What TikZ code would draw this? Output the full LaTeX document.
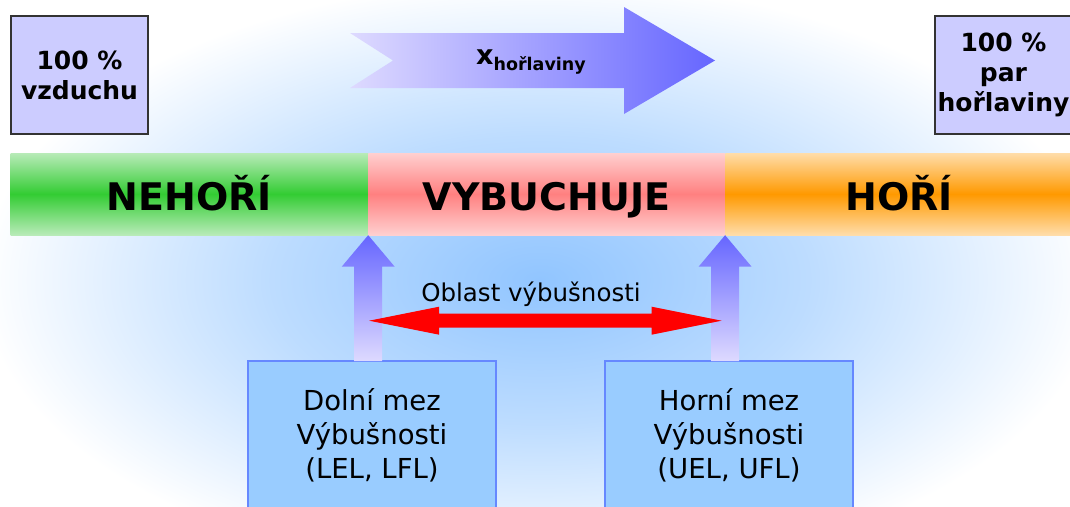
\documentclass[tikz,border=0pt]{standalone}
\usepackage{fontspec}
\setmainfont{DejaVu Sans}
\usetikzlibrary{calc,positioning}
\definecolor{glow}{RGB}{145,197,255}
\definecolor{pctfill}{RGB}{204,204,255}
\definecolor{pctline}{RGB}{51,51,51}
\definecolor{arrowlight}{RGB}{222,218,255}
\definecolor{arrowdark}{RGB}{102,102,255}
\definecolor{greenedge}{RGB}{184,235,184}
\definecolor{greenmid}{RGB}{51,204,51}
\definecolor{rededge}{RGB}{255,208,208}
\definecolor{redmid}{RGB}{255,128,128}
\definecolor{orangeedge}{RGB}{255,221,170}
\definecolor{orangemid}{RGB}{255,153,0}
\definecolor{limfill}{RGB}{153,204,255}
\definecolor{limline}{RGB}{102,136,255}
\pgfdeclareradialshading{glowbg}{\pgfpoint{0bp}{0bp}}{color(0bp)=(glow);
  color(12bp)=(glow!60!white); color(25bp)=(white); color(50bp)=(white)}
\begin{document}
\begin{tikzpicture}[x=1pt,y=-1pt,
  pctbox/.style={draw=pctline, line width=1.5pt, fill=pctfill, align=center,
    minimum width=137pt, minimum height=118pt, inner sep=0pt,
    font=\fontsize{25}{30}\selectfont\bfseries},
  barseg/.style={minimum height=82pt, inner sep=0pt, text height=33pt, text depth=0pt,
    font=\fontsize{38}{38}\selectfont\bfseries},
  limbox/.style={draw=limline, line width=1.2pt, fill=limfill, align=center,
    minimum width=248pt, minimum height=160pt, text depth=15pt,
    font=\fontsize{27.5}{34}\selectfont},
  uparrow/.style={top color=arrowdark, bottom color=arrowlight}]
\useasboundingbox (0,0) rectangle (1070,506);
\clip (0,0) rectangle (1070,506);
% blue glow behind everything
\shade[shading=glowbg] (-20,-20) rectangle (1100,580);

% the two end states
\node[pctbox] (vzduch) at (79.5,75) {100 \%\\vzduchu};
\node[pctbox] (parhorl) at (1003.5,75) {100 \%\\par\\hořlaviny};

% concentration arrow
\shade[left color=arrowlight, right color=arrowdark]
  (350,33) -- (624,33) -- (624,7) -- (715,60.5) -- (624,114) -- (624,88)
  -- (350,88) -- (393,60.5) -- cycle;
\node[font=\bfseries] (xhorl) at (531,62)
  {\fontsize{27}{27}\selectfont x\raisebox{-6pt}{\fontsize{17.5}{17.5}\selectfont hořlaviny}};

% the bar
\node[barseg, minimum width=357.5pt, top color=greenedge, bottom color=greenedge,
  middle color=greenmid] (nehori) at (189.25,194) {NEHOŘÍ};
\node[barseg, minimum width=356.5pt, top color=rededge, bottom color=rededge,
  middle color=redmid, right=0pt of nehori] (vybuchuje) {VYBUCHUJE};
\node[barseg, minimum width=347.5pt, top color=orangeedge, bottom color=orangeedge,
  middle color=orangemid, right=0pt of vybuchuje] (hori) {HOŘÍ};

% limits
\node[limbox] (dolni) at (372,441) {Dolní mez\\Výbušnosti\\(LEL, LFL)};
\node[limbox] (horni) at (729,441) {Horní mez\\Výbušnosti\\(UEL, UFL)};

\foreach \seg/\lim in {nehori/dolni, vybuchuje/horni}{
  \coordinate (foot) at (\seg.south east |- \lim.north);
  \shade[uparrow] (\seg.south east) -- ++(26.5,31.5) -- ++(-12.5,0)
    -- ([xshift=14pt,yshift=-0.6pt]foot) -- ([xshift=-14pt,yshift=-0.6pt]foot)
    -- ([xshift=-14pt,yshift=-31.5pt]\seg.south east) -- ++(-12.5,0) -- cycle;
}

% explosive range
\coordinate (lelpt) at ([xshift=1pt,yshift=-85.5pt]nehori.south east);
\coordinate (uelpt) at ([xshift=-3.5pt,yshift=-85.5pt]vybuchuje.south east);
\fill[red] (lelpt) -- ++(70,-14) -- ++(0,7) -- ($(uelpt)+(-70,-7)$)
  -- ++(0,-7) -- (uelpt) -- ++(-70,14) -- ++(0,-7) -- ($(lelpt)+(70,7)$)
  -- ++(0,7) -- cycle;
\node[font=\fontsize{24.5}{24.5}\selectfont, anchor=base] (oblast) at (531,301)
  {Oblast výbušnosti};
\end{tikzpicture}
\end{document}
